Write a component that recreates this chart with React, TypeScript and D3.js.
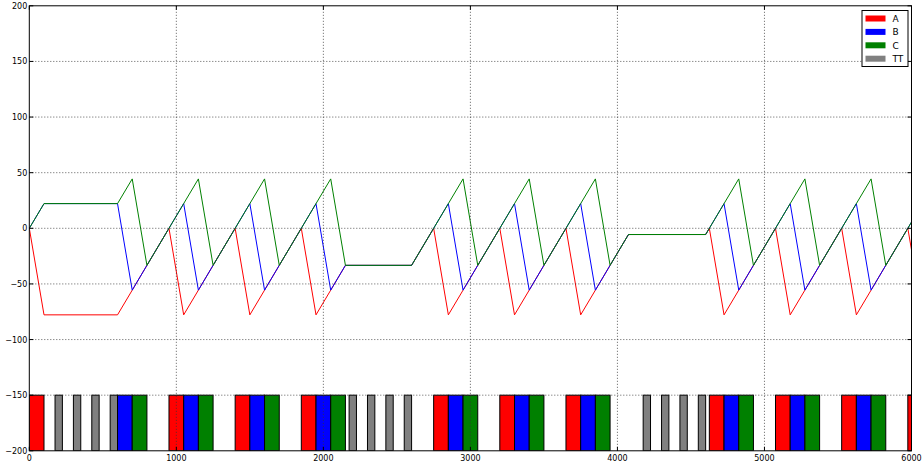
import React from 'react';
import * as d3 from 'd3';

// breakpoints shared by the three phase lines
const times = [0, 100, 600, 700, 800, 950, 1050, 1150, 1250, 1400, 1500, 1600, 1700, 1850, 1950, 2050, 2150, 2600, 2750, 2850, 2950, 3050, 3200, 3300, 3400, 3500, 3650, 3750, 3850, 3950, 4075, 4600, 4625, 4725, 4825, 4925, 5075, 5175, 5275, 5375, 5525, 5625, 5725, 5825, 5975, 6000];

const seriesA = [0, -77.8, -77.8, -55.6, -33.3, 0, -77.8, -55.6, -33.3, 0, -77.8, -55.6, -33.3, 0, -77.8, -55.6, -33.3, -33.3, 0, -77.8, -55.6, -33.3, 0, -77.8, -55.6, -33.3, 0, -77.8, -55.6, -33.3, -5.6, -5.6, 0, -77.8, -55.6, -33.3, 0, -77.8, -55.6, -33.3, 0, -77.8, -55.6, -33.3, 0, -19.4];
const seriesB = [0, 22.2, 22.2, -55.6, -33.3, 0, 22.2, -55.6, -33.3, 0, 22.2, -55.6, -33.3, 0, 22.2, -55.6, -33.3, -33.3, 0, 22.2, -55.6, -33.3, 0, 22.2, -55.6, -33.3, 0, 22.2, -55.6, -33.3, -5.6, -5.6, 0, 22.2, -55.6, -33.3, 0, 22.2, -55.6, -33.3, 0, 22.2, -55.6, -33.3, 0, 5.6];
const seriesC = [0, 22.2, 22.2, 44.4, -33.3, 0, 22.2, 44.4, -33.3, 0, 22.2, 44.4, -33.3, 0, 22.2, 44.4, -33.3, -33.3, 0, 22.2, 44.4, -33.3, 0, 22.2, 44.4, -33.3, 0, 22.2, 44.4, -33.3, -5.6, -5.6, 0, 22.2, 44.4, -33.3, 0, 22.2, 44.4, -33.3, 0, 22.2, 44.4, -33.3, 0, 5.6];

// bar starts for the bottom strip
const barsA = [0, 950, 1400, 1850, 2750, 3200, 3650, 4625, 5075, 5525, 5975];
const barsB = [600, 1050, 1500, 1950, 2850, 3300, 3750, 4725, 5175, 5625];
const barsC = [700, 1150, 1600, 2050, 2950, 3400, 3850, 4825, 5275, 5725];
const barsTT = [175, 300, 425, 550, 2175, 2300, 2425, 2550, 4175, 4300, 4425, 4550];
const phaseWidth = 100;
const ttWidth = 50;

const xTicks = [0, 1000, 2000, 3000, 4000, 5000, 6000];
const yTicks = [-200, -150, -100, -50, 0, 50, 100, 150, 200];

const legendNames = ['A', 'B', 'C', 'TT'];
const colors: Record<string, string> = { A: '#ff0000', B: '#0000ff', C: '#008000', TT: '#808080' };

const W = 922, H = 464;
const left = 29.3, right = 911.5, top = 5.8, bottom = 450.8;
const font = '"DejaVu Sans", sans-serif';

export default function App() {
  const x = d3.scaleLinear().domain([0, 6000]).range([left, right]);
  const y = d3.scaleLinear().domain([-200, 200]).range([bottom, top]);
  const line = d3.line<number>().x((_, i) => x(times[i])).y(d => y(d));

  const bars = [
    ...barsA.map(s => ({ s, w: phaseWidth, k: 'A' })),
    ...barsTT.map(s => ({ s, w: ttWidth, k: 'TT' })),
    ...barsB.map(s => ({ s, w: phaseWidth, k: 'B' })),
    ...barsC.map(s => ({ s, w: phaseWidth, k: 'C' })),
  ];
  const lines = [
    { k: 'A', v: seriesA },
    { k: 'B', v: seriesB },
    { k: 'C', v: seriesC },
  ];

  return (
    <svg width={W} height={H} style={{ position: 'absolute', left: 0, top: 0, background: '#fff' }} fontFamily={font}>
      <defs>
        <clipPath id="plot">
          <rect x={left} y={top} width={right - left} height={bottom - top} />
        </clipPath>
      </defs>
      <rect x={0} y={0} width={W} height={H} fill="#fff" />
      <g clipPath="url(#plot)">
        {bars.map((b, i) => (
          <rect key={i} x={x(b.s)} y={y(-150)} width={x(b.s + b.w) - x(b.s)} height={y(-200) - y(-150)}
            fill={colors[b.k]} stroke="#000" strokeWidth={1} />
        ))}
        {lines.map(l => (
          <path key={l.k} d={line(l.v) || ''} fill="none" stroke={colors[l.k]} strokeWidth={1} />
        ))}
      </g>
      {/* grid */}
      <g stroke="#333" strokeWidth={0.8} strokeDasharray="1,2">
        {xTicks.slice(1, -1).map(t => (
          <line key={'gx' + t} x1={x(t)} x2={x(t)} y1={top} y2={bottom} />
        ))}
        {yTicks.slice(1, -1).map(t => (
          <line key={'gy' + t} x1={left} x2={right} y1={y(t)} y2={y(t)} />
        ))}
      </g>
      {/* ticks, inward on all sides */}
      <g stroke="#000" strokeWidth={1}>
        {xTicks.map(t => (
          <g key={'tx' + t}>
            <line x1={x(t)} x2={x(t)} y1={bottom} y2={bottom - 4} />
            <line x1={x(t)} x2={x(t)} y1={top} y2={top + 4} />
          </g>
        ))}
        {yTicks.map(t => (
          <g key={'ty' + t}>
            <line x1={left} x2={left + 4} y1={y(t)} y2={y(t)} />
            <line x1={right} x2={right - 4} y1={y(t)} y2={y(t)} />
          </g>
        ))}
      </g>
      <rect x={left} y={top} width={right - left} height={bottom - top} fill="none" stroke="#000" strokeWidth={1} />
      <g fontSize={8} fill="#000">
        {xTicks.map(t => (
          <text key={'lx' + t} x={x(t)} y={461} textAnchor="middle">{String(t)}</text>
        ))}
        {yTicks.map(t => (
          <text key={'ly' + t} x={left - 2} y={y(t) + 3} textAnchor="end">{t < 0 ? '\u2212' + Math.abs(t) : String(t)}</text>
        ))}
      </g>
      {/* legend */}
      <g>
        <rect x={862} y={10.5} width={46} height={56} fill="#fff" stroke="#000" strokeWidth={1} />
        {legendNames.map((n, i) => (
          <g key={n} transform={`translate(0, ${18.5 + i * 13.4})`}>
            <rect x={865.5} y={-3} width={20} height={6} fill={colors[n]} />
            <text x={892.5} y={3.3} fontSize={9} fill="#000">{n}</text>
          </g>
        ))}
      </g>
    </svg>
  );
}
